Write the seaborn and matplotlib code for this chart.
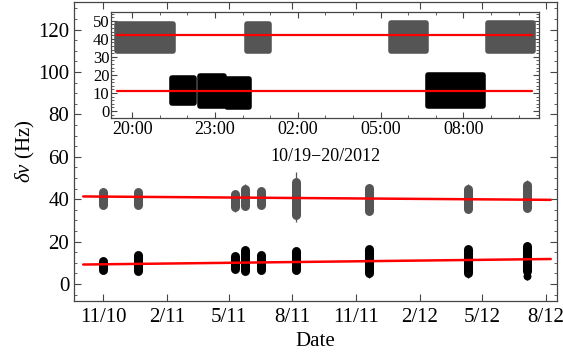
import numpy as np
import pandas as pd
import matplotlib
matplotlib.use("Agg")
import matplotlib.pyplot as plt
import matplotlib.dates as mdates
from matplotlib.ticker import MultipleLocator, FuncFormatter
import seaborn as sns

# ---------------- data ----------------
main_dates = ["2010-11-01", "2010-12-21", "2011-05-10", "2011-05-25", "2011-06-16",
              "2011-08-06", "2011-11-20", "2012-04-10", "2012-07-05"]
gray_lo = [37.5, 37.5, 36.5, 37.0, 37.5, 32.5, 34.5, 35.5, 36.0]
gray_hi = [43.5, 43.5, 42.5, 45.0, 44.0, 48.0, 45.5, 45.0, 46.5]
gray_err_lo = [36.0, 36.0, 34.0, 35.0, 36.0, 29.4, 33.0, 34.0, 34.5]
gray_err_hi = [45.0, 45.0, 44.5, 47.3, 45.5, 52.9, 47.4, 47.0, 49.0]
black_lo = [6.5, 6.0, 7.0, 6.0, 6.5, 6.5, 5.0, 5.0, 6.0]
black_hi = [11.0, 13.5, 13.0, 16.0, 13.5, 15.5, 16.5, 16.5, 18.0]
black_err_lo = [5.0, 4.5, 5.5, 4.5, 5.0, 5.0, 3.0, 3.0, 2.0]
black_err_hi = [12.4, 15.2, 14.4, 17.8, 15.0, 16.6, 17.8, 18.1, 19.8]
black_outlier_date = ["2012-07-05"]
black_outlier_val = [3.6]

fit_dates = ["2010-10-03", "2012-08-08"]
gray_fit = [41.3, 39.7]
black_fit = [9.2, 11.8]

# inset (night of 10/19-20/2012)
inset_gray_start = ["2012-10-19 19:27", "2012-10-20 00:09", "2012-10-20 05:22", "2012-10-20 08:54"]
inset_gray_end = ["2012-10-19 21:28", "2012-10-20 00:58", "2012-10-20 06:38", "2012-10-20 10:32"]
inset_gray_lo = [33.5, 33.5, 33.0, 33.5]
inset_gray_hi = [48.0, 48.0, 48.5, 48.5]
inset_black_start = ["2012-10-19 21:26", "2012-10-19 22:27", "2012-10-19 23:25", "2012-10-20 06:44"]
inset_black_end = ["2012-10-19 22:14", "2012-10-19 23:19", "2012-10-20 00:14", "2012-10-20 08:42"]
inset_black_lo = [4.5, 3.0, 2.5, 3.0]
inset_black_hi = [18.5, 19.5, 18.0, 20.0]
inset_fit_times = ["2012-10-19 19:27", "2012-10-20 10:29"]
inset_gray_fit = [42.2, 42.2]
inset_black_fit = [11.1, 11.1]

# ---------------- style ----------------
sns.set_theme(style="ticks")
plt.rcParams["font.family"] = ["Liberation Serif", "DejaVu Serif"]
plt.rcParams["mathtext.fontset"] = "custom"
plt.rcParams["mathtext.rm"] = "Liberation Serif"
plt.rcParams["mathtext.it"] = "Liberation Serif:italic"
FRAME = "#454545"
GRAY = "#555555"
RED = "#ff0000"

fig = plt.figure(figsize=(5.63, 3.55), dpi=100)
ax = fig.add_axes([73.5 / 563, 1 - 301 / 355, (557 - 73.5) / 563, (301 - 2) / 355])

d = pd.to_datetime(main_dates)
ax.vlines(d, gray_err_lo, gray_err_hi, color=GRAY, lw=0.9)
ax.vlines(d, gray_lo, gray_hi, color=GRAY, lw=6.5, capstyle="round")
ax.vlines(d, black_err_lo, black_err_hi, color="black", lw=0.9)
ax.vlines(d, black_lo, black_hi, color="black", lw=6.5, capstyle="round")
ax.scatter(pd.to_datetime(black_outlier_date), black_outlier_val, color="black", s=22, zorder=3)

fit_df = pd.DataFrame({"date": pd.to_datetime(fit_dates * 2),
                       "val": gray_fit + black_fit,
                       "series": ["gray"] * 2 + ["black"] * 2})
sns.lineplot(data=fit_df, x="date", y="val", units="series", estimator=None,
             color=RED, lw=1.8, ax=ax, zorder=4)

ax.set_xlim(pd.Timestamp("2010-09-19"), pd.Timestamp("2012-08-17"))
ax.set_ylim(-8, 133)
ax.yaxis.set_major_locator(MultipleLocator(20))
ax.yaxis.set_minor_locator(MultipleLocator(5))
ax.xaxis.set_major_locator(mdates.MonthLocator(bymonth=[2, 5, 8, 11]))
ax.xaxis.set_major_formatter(FuncFormatter(
    lambda v, p: f"{mdates.num2date(v).month}/{mdates.num2date(v).strftime('%y')}"))
ax.set_xlabel("Date", fontsize=15, color="black", labelpad=4)
ax.set_ylabel(r"$\delta\nu$ (Hz)", fontsize=15, color="black", labelpad=1)

for s in ax.spines.values():
    s.set_color(FRAME)
    s.set_linewidth(0.9)
ax.tick_params(which="both", direction="in", top=True, right=True, color=FRAME,
               labelcolor="black")
ax.tick_params(axis="x", labelsize=15, pad=5)
ax.tick_params(axis="y", labelsize=15, pad=3)
ax.tick_params(which="major", length=5, width=0.8)
ax.tick_params(which="minor", length=2.5, width=0.6)

# ---------------- inset ----------------
ins = fig.add_axes([110.7 / 563, 1 - 118.3 / 355, (539.3 - 110.7) / 563, (118.3 - 11.7) / 355])
ins.set_facecolor("white")
for st, en, lo, hi in zip(inset_gray_start, inset_gray_end, inset_gray_lo, inset_gray_hi):
    c = ins.fill_between(pd.to_datetime([st, en]), [lo, lo], [hi, hi], color=GRAY,
                         lw=4, edgecolor=GRAY)
    c.set_joinstyle("round")
for st, en, lo, hi in zip(inset_black_start, inset_black_end, inset_black_lo, inset_black_hi):
    c = ins.fill_between(pd.to_datetime([st, en]), [lo, lo], [hi, hi], color="black",
                         lw=4, edgecolor="black")
    c.set_joinstyle("round")
ins_df = pd.DataFrame({"t": pd.to_datetime(inset_fit_times * 2),
                       "val": inset_gray_fit + inset_black_fit,
                       "series": ["gray"] * 2 + ["black"] * 2})
sns.lineplot(data=ins_df, x="t", y="val", units="series", estimator=None,
             color=RED, lw=1.6, ax=ins, zorder=4)
ins.set_xlim(pd.Timestamp("2012-10-19 19:13"), pd.Timestamp("2012-10-20 10:45"))
ins.set_ylim(-4, 55)
ins.yaxis.set_major_locator(MultipleLocator(10))
ins.yaxis.set_minor_locator(MultipleLocator(2))
ins.xaxis.set_major_locator(mdates.HourLocator(byhour=range(2, 24, 3)))
ins.xaxis.set_minor_locator(mdates.HourLocator())
ins.xaxis.set_major_formatter(mdates.DateFormatter("%H:%M"))
ins.set_xlabel("10/19\u221220/2012", fontsize=13, color="black", labelpad=7)
ins.set_ylabel("")
for s in ins.spines.values():
    s.set_color(FRAME)
    s.set_linewidth(0.9)
ins.tick_params(which="both", direction="in", top=True, right=True, color=FRAME,
                labelcolor="black", pad=2)
ins.tick_params(axis="x", labelsize=13)
ins.tick_params(axis="y", labelsize=12, pad=1)
ins.tick_params(which="major", length=4, width=0.8)
ins.tick_params(which="minor", length=2, width=0.6)

fig.savefig("out.png", dpi=100)
